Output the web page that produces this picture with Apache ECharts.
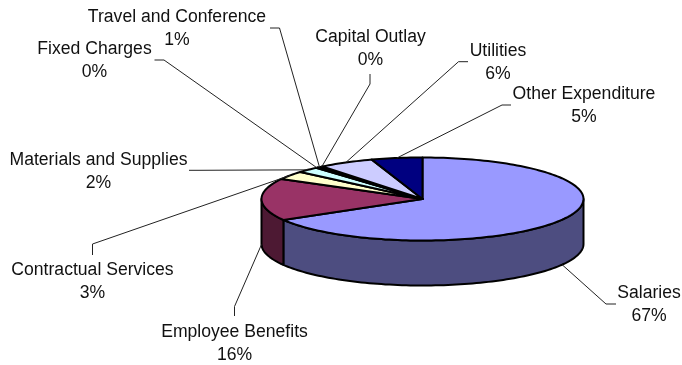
<!DOCTYPE html>
<html>
<head>
<meta charset="utf-8">
<title>Expenditure by category</title>
<style>html,body{margin:0;padding:0;background:#fff}#chart{width:682px;height:365px}</style>
<script src="https://cdn.jsdelivr.net/npm/echarts@6/dist/echarts.min.js"></script>
</head>
<body>
<div id="chart"></div>
<script>
// Expenditure categories, clockwise from twelve o'clock
const categories = ['Salaries', 'Employee Benefits', 'Contractual Services', 'Materials and Supplies',
  'Fixed Charges', 'Travel and Conference', 'Capital Outlay', 'Utilities', 'Other Expenditure'];
// Share of the total, in percent
const shares = [66.6, 16.4, 3.3, 2.2, 0.2, 0.5, 0.1, 5.6, 5.1];

// Slice fills and the darker wall fills
const topColors = ['#9999FF', '#993366', '#FFFFCC', '#CCFFFF', '#660066', '#FF8080', '#0066CC', '#CCCCFF', '#000080'];
const wallColors = ['#4D4D80', '#4D1933', '#808066', '#668080', '#330033', '#804040', '#003366', '#666680', '#000040'];

// Disc geometry in pixels
const disc = { cx: 422.5, cy: 199, rx: 161, ry: 41.5, depth: 45 };

// Callout placement per category: label centre, leader elbow, leader end
const callouts = [
  { label: [649, 305], elbow: [606, 304], end: [616, 304] },
  { label: [234.5, 343.5], elbow: [234.5, 306.5], end: [234.5, 316] },
  { label: [92.5, 282], elbow: [92.5, 244], end: [92.5, 255] },
  { label: [98.5, 172], elbow: [198, 170.3], end: [189, 170.3] },
  { label: [94.5, 60.5], elbow: [164, 60], end: [154.5, 60] },
  { label: [177, 28.5], elbow: [279.5, 28], end: [270, 28] },
  { label: [370.5, 48.5], elbow: [370, 84], end: [370, 74] },
  { label: [498, 62.5], elbow: [458.5, 61.7], end: [468, 61.7] },
  { label: [584, 106], elbow: [502, 105], end: [511, 105] }
];

const total = shares.reduce((a, b) => a + b, 0);
const bounds = [0];
shares.forEach((s, i) => bounds.push(bounds[i] + s / total * 360));

// Point on the rim, angle in degrees clockwise from the top
function rim(deg, drop) {
  const t = deg * Math.PI / 180;
  return [disc.cx + disc.rx * Math.sin(t), disc.cy - disc.ry * Math.cos(t) + (drop || 0)];
}
function arc(a, b, drop) {
  const n = Math.max(2, Math.ceil(Math.abs(b - a) / 1.5));
  const pts = [];
  for (let i = 0; i <= n; i++) pts.push(rim(a + (b - a) * i / n, drop));
  return pts;
}

const seriesData = categories.map((name, i) => ({ name, value: shares[i] }));

function renderWall(params) {
  const i = params.dataIndex;
  const a = Math.max(bounds[i], 90), b = Math.min(bounds[i + 1], 270);
  if (b <= a) return { type: 'group', children: [] };
  return {
    type: 'polygon',
    shape: { points: arc(a, b, 0).concat(arc(b, a, disc.depth)) },
    style: { fill: wallColors[i], stroke: '#000', lineWidth: 2, lineJoin: 'round' }
  };
}

function renderTop(params) {
  const i = params.dataIndex;
  return {
    type: 'polygon',
    shape: { points: [[disc.cx, disc.cy]].concat(arc(bounds[i], bounds[i + 1], 0)) },
    style: { fill: topColors[i], stroke: '#000', lineWidth: 2, lineJoin: 'round' }
  };
}

function renderCallout(params, api) {
  const i = params.dataIndex;
  const c = callouts[i];
  const mid = (bounds[i] + bounds[i + 1]) / 2;
  const onFront = mid > 90 && mid <= 270;
  return {
    type: 'group',
    children: [
      {
        type: 'polyline',
        shape: { points: [rim(mid, onFront ? disc.depth : 0), c.elbow, c.end] },
        style: { fill: 'none', stroke: '#222', lineWidth: 1 }
      },
      {
        type: 'text',
        style: {
          x: c.label[0], y: c.label[1],
          text: categories[i] + '\n' + Math.round(api.value(0)) + '%',
          align: 'center', verticalAlign: 'middle',
          fontFamily: '"Liberation Sans", Arial, sans-serif', fontSize: 17.6, lineHeight: 23,
          fill: '#111'
        }
      }
    ]
  };
}

const chart = echarts.init(document.getElementById('chart'), null, { renderer: 'canvas' });
chart.setOption({
  animation: false,
  backgroundColor: '#fff',
  series: [
    { type: 'custom', coordinateSystem: 'none', z: 1, silent: true, renderItem: renderWall, data: seriesData, encode: { value: 0 } },
    { type: 'custom', coordinateSystem: 'none', z: 2, silent: true, renderItem: renderTop, data: seriesData, encode: { value: 0 } },
    { type: 'custom', coordinateSystem: 'none', z: 3, silent: true, renderItem: renderCallout, data: seriesData, encode: { value: 0 } }
  ]
});
</script>
</body>
</html>
